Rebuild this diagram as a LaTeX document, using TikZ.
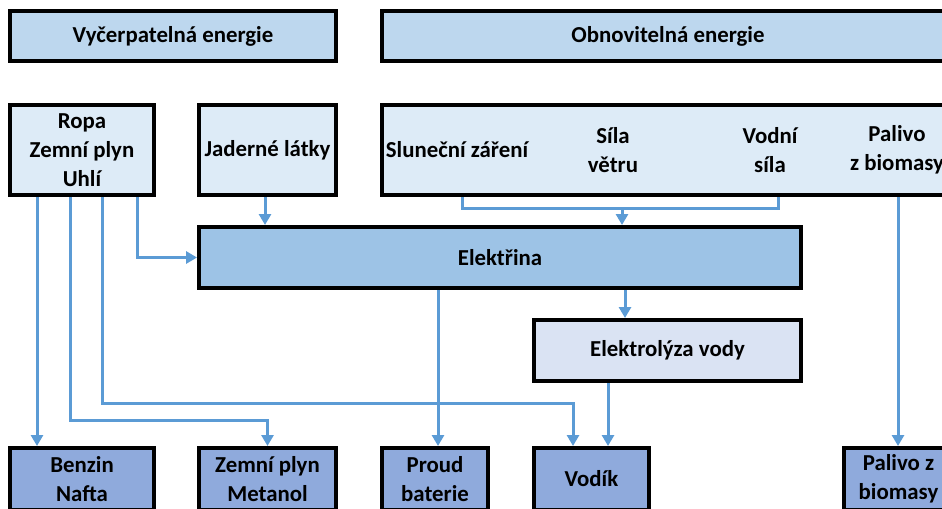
\documentclass[tikz,border=0pt]{standalone}
\usepackage{fontspec}
\setmainfont{Carlito}
\usepackage{tikz}
\usetikzlibrary{arrows.meta,backgrounds}
\definecolor{enhead}{HTML}{BDD7EE}
\definecolor{ensrc}{HTML}{DDEBF7}
\definecolor{enelec}{HTML}{9DC3E6}
\definecolor{enlyz}{HTML}{DAE3F3}
\definecolor{enout}{HTML}{8FAADC}
\definecolor{enflow}{HTML}{5B9BD5}

\begin{document}
\begin{tikzpicture}[x=0.02cm,y=-0.02cm,
    enbox/.style={draw=black,line width=0.08cm,inner sep=0pt,align=center,
      font=\fontsize{13}{16.5}\selectfont\bfseries},
    entext/.style={inner sep=0pt,align=center,font=\fontsize{13}{16.5}\selectfont\bfseries},
    flow/.style={enflow,line width=0.06cm,-{Triangle[width=0.24cm,length=0.22cm]}},
    link/.style={enflow,line width=0.06cm}]
  \useasboundingbox (0,0) rectangle (942,508);
  \clip (0,0) rectangle (942,508);
  % top headers
  \node[enbox,fill=enhead,minimum width=6.52cm,minimum height=1cm] (vycer) at (173,36) {Vyčerpatelná energie};
  \node[enbox,fill=enhead,minimum width=11.44cm,minimum height=1cm] (obnov) at (668,36) {Obnovitelná energie};
  % sources
  \node[enbox,fill=ensrc,minimum width=2.88cm,minimum height=1.8cm] (ropa) at (82,150) {Ropa\\Zemní plyn\\Uhlí};
  \node[enbox,fill=ensrc,minimum width=2.74cm,minimum height=1.8cm] (jader) at (267.5,150) {Jaderné látky};
  \node[enbox,fill=ensrc,minimum width=11.44cm,minimum height=1.8cm] (obnzdr) at (668,150) {};
  \node[entext] (slunce) at (457,150) {Sluneční záření};
  \node[entext] (vitr) at (613,150) {Síla\\větru};
  \node[entext] (voda) at (770,150) {Vodní\\síla};
  \node[entext] (biom) at (897,150) {Palivo\\z biomasy};
  % middle
  \node[enbox,fill=enelec,minimum width=12.04cm,minimum height=1.22cm] (elek) at (500,257.5) {Elektřina};
  \node[enbox,fill=enlyz,minimum width=5.34cm,minimum height=1.22cm] (elyz) at (667.5,350.5) {Elektrolýza vody};
  % outputs
  \node[enbox,fill=enout,minimum width=2.88cm,minimum height=1.24cm] (benzin) at (82,479) {Benzin\\Nafta};
  \node[enbox,fill=enout,minimum width=2.74cm,minimum height=1.24cm] (zemni) at (267.5,479) {Zemní plyn\\Metanol};
  \node[enbox,fill=enout,minimum width=2.12cm,minimum height=1.24cm] (proud) at (435,479) {Proud\\baterie};
  \node[enbox,fill=enout,minimum width=2.3cm,minimum height=1.24cm] (vodik) at (591.5,479) {Vodík};
  \node[enbox,fill=enout,minimum width=2.18cm,minimum height=1.24cm] (palivo) at (898.5,479) {Palivo z\\biomasy};
  % flows
  \begin{scope}[on background layer]
    \draw[flow] (ropa.south -| 37,0) -- (benzin.north -| 37,0);
    \draw[flow] (ropa.south -| 70,0) -- (70,420) -| (zemni.north);
    \draw[flow] (ropa.south -| 102,0) -- (102,403) -| (vodik.north -| 573,0);
    \draw[flow] (ropa.south -| 137,0) |- (elek.west);
    \draw[flow] (jader.south -| 265,0) -- (elek.north -| 265,0);
    \draw[link] (obnzdr.south -| 462,0) -- (462,208) -- (778,208) -- (obnzdr.south -| 778,0);
    \draw[flow] (622,208) -- (elek.north -| 622,0);
    \draw[flow] (elek.south -| 438,0) -- (proud.north -| 438,0);
    \draw[flow] (elek.south -| 625,0) -- (elyz.north -| 625,0);
    \draw[flow] (elyz.south -| 608,0) -- (vodik.north -| 608,0);
    \draw[flow] (obnzdr.south -| 898,0) -- (palivo.north -| 898,0);
  \end{scope}
\end{tikzpicture}
\end{document}
